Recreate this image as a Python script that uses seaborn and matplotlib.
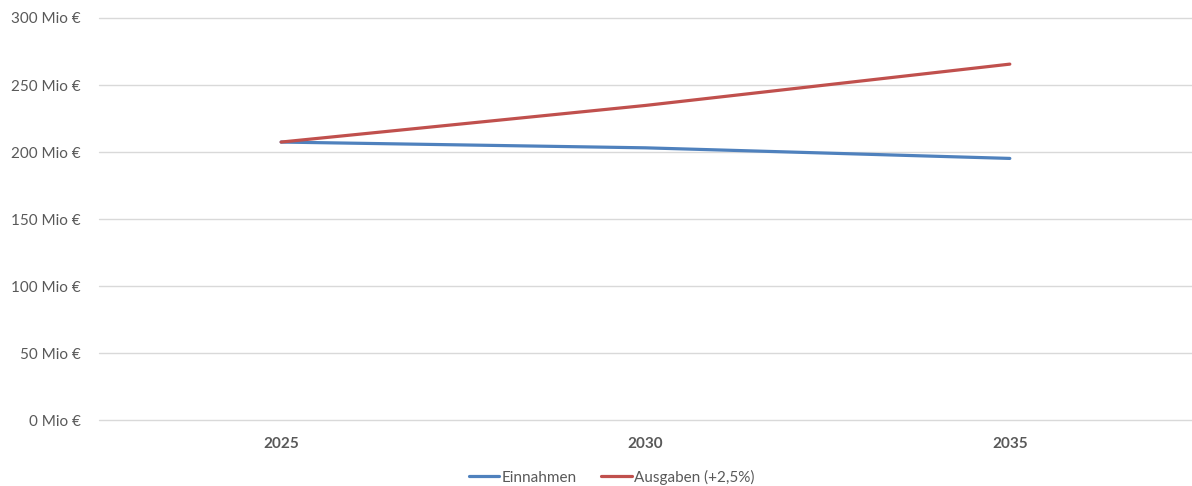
import matplotlib
matplotlib.use('Agg')
import matplotlib.pyplot as plt
import pandas as pd
import seaborn as sns

jahre = ['2025', '2030', '2035']
einnahmen = [207.5, 203.2, 195.3]
ausgaben = [207.5, 234.8, 265.6]
serien = ['Einnahmen', 'Ausgaben (+2,5%)']
farben = ['#4F81BD', '#C0504D']
y_ticks = [0, 50, 100, 150, 200, 250, 300]

df = pd.DataFrame({
    'jahr': jahre * 2,
    'pos': list(range(len(jahre))) * 2,
    'wert': einnahmen + ausgaben,
    'serie': [serien[0]] * len(jahre) + [serien[1]] * len(jahre),
})

sns.set_style('white')
plt.rcParams['font.family'] = ['Lato', 'DejaVu Sans']

fig = plt.figure(figsize=(11.92, 4.86), dpi=100)
ax = fig.add_axes([0.083, 0.135, 0.917, 0.828])
sns.lineplot(data=df, x='pos', y='wert', hue='serie', palette=farben,
             linewidth=2.3, ax=ax, legend=False)

ax.set_xlim(-0.5, len(jahre) - 0.5)
ax.set_ylim(0, 300)
ax.set_yticks(y_ticks)
ax.set_yticklabels([f'{v} Mio €' for v in y_ticks], color='#595959', fontsize=11)
ax.set_xticks(range(len(jahre)))
ax.set_xticklabels(jahre, color='#595959', fontsize=11, fontweight='bold')
ax.tick_params(axis='x', length=0, pad=12)
ax.tick_params(axis='y', length=0, pad=13)
ax.grid(axis='y', color='#D9D9D9', linewidth=1)
for gl in ax.get_ygridlines():
    gl.set_clip_on(False)
ax.set_axisbelow(True)
for s in ax.spines.values():
    s.set_visible(False)
ax.set_xlabel('')
ax.set_ylabel('')

handles = [plt.Line2D([], [], color=c, linewidth=2.3) for c in farben]
fig.legend(handles, serien, loc='center', bbox_to_anchor=(0.513, 0.018),
           ncol=2, frameon=False, fontsize=11, labelcolor='#595959',
           handlelength=2.0, handletextpad=0.15, columnspacing=1.6)

fig.savefig('out.png', dpi=100)
